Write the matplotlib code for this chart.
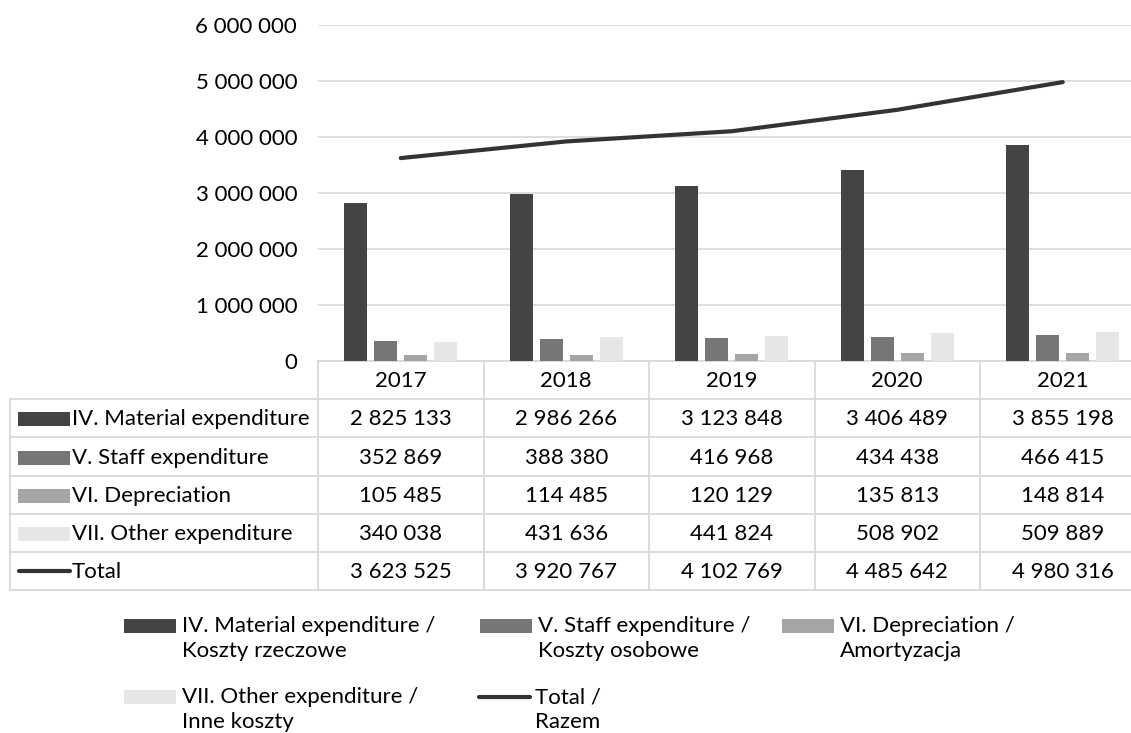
import matplotlib
matplotlib.use("Agg")
import matplotlib.pyplot as plt
from matplotlib.ticker import FuncFormatter, MultipleLocator
from matplotlib.patches import Rectangle
from matplotlib.lines import Line2D

plt.rcParams['font.family'] = ['Lato', 'DejaVu Sans']

# ---- data ----
years = ["2017", "2018", "2019", "2020", "2021"]
material = [2825133, 2986266, 3123848, 3406489, 3855198]
staff = [352869, 388380, 416968, 434438, 466415]
depreciation = [105485, 114485, 120129, 135813, 148814]
other = [340038, 431636, 441824, 508902, 509889]
total = [3623525, 3920767, 4102769, 4485642, 4980316]

series_short = ["IV. Material expenditure", "V. Staff expenditure",
                "VI. Depreciation", "VII. Other expenditure"]
series_long = ["IV. Material expenditure /\nKoszty rzeczowe",
               "V. Staff expenditure /\nKoszty osobowe",
               "VI. Depreciation /\nAmortyzacja",
               "VII. Other expenditure /\nInne koszty"]
total_short = "Total"
total_long = "Total /\nRazem"

colors = ["#444444", "#767676", "#a5a5a5", "#e6e6e6"]
line_color = "#333333"
grid_color = "#d9d9d9"
FS = 16

W, H = 1131, 733
fig = plt.figure(figsize=(W / 100, H / 100), dpi=100)

# layout layer in pixel coordinates
lay = fig.add_axes([0, 0, 1, 1], zorder=0)
lay.set_xlim(0, W)
lay.set_ylim(H, 0)
lay.axis("off")

# plot area geometry (px)
px_left, col_w = 318.0, 165.5
px_top, px_base = 25.0, 361.0
ncol = len(years)
px_right = px_left + col_w * ncol

ax = fig.add_axes([px_left / W, 1 - px_base / H,
                   (px_right - px_left) / W, (px_base - px_top) / H], zorder=2)
ax.set_facecolor("none")
ax.set_xlim(-0.5, ncol - 0.5)
ax.set_ylim(0, 6000000)
ax.yaxis.set_major_locator(MultipleLocator(1000000))
ax.yaxis.set_major_formatter(FuncFormatter(lambda v, p: f"{int(v):,}".replace(",", " ")))
ax.tick_params(axis="y", length=0, pad=15, labelsize=FS, colors="#000000")
ax.set_xticks([])
for s in ax.spines.values():
    s.set_visible(False)
ax.grid(axis="y", color=grid_color, linewidth=1.2)
ax.set_axisbelow(True)

values = [material, staff, depreciation, other]
bar_w = 23 / col_w
offsets = [-45 / col_w, -15 / col_w, 15 / col_w, 45 / col_w]
xs = list(range(ncol))
for vals, off, c in zip(values, offsets, colors):
    ax.bar([x + off for x in xs], vals, width=bar_w, color=c, zorder=3)
ax.plot(xs, total, color=line_color, linewidth=3.0, solid_capstyle="round", zorder=4)

# ---- data table ----
def fmt(v):
    return f"{v:,}".replace(",", " ")

row_edges = [399, 437, 476, 514, 552, 590]
tbl_left = 10
lw = 1.3
# header top border & column separators
lay.plot([px_left, W], [px_base, px_base], color=grid_color, lw=lw)
for y in row_edges:
    lay.plot([tbl_left, W], [y, y], color=grid_color, lw=lw)
lay.plot([tbl_left, tbl_left], [row_edges[0], row_edges[-1]], color=grid_color, lw=lw)
for i in range(ncol):
    xv = px_left + col_w * i
    lay.plot([xv, xv], [px_base, row_edges[-1]], color=grid_color, lw=lw)

for i, yr in enumerate(years):
    lay.text(px_left + col_w * (i + 0.5), (px_base + row_edges[0]) / 2 + 1, yr,
             ha="center", va="center", fontsize=FS)

row_vals = values + [total]
for r in range(5):
    yc = (row_edges[r] + row_edges[r + 1]) / 2 + 1
    if r < 4:
        lay.add_patch(Rectangle((18, yc - 7), 52, 14, color=colors[r], lw=0))
        lab = series_short[r]
    else:
        lay.add_line(Line2D([19, 70], [yc - 1, yc - 1], color=line_color, lw=3.0,
                            solid_capstyle="round"))
        lab = total_short
    lay.text(72, yc, lab, ha="left", va="center", fontsize=FS)
    for i in range(ncol):
        lay.text(px_left + col_w * (i + 0.5), yc, fmt(row_vals[r][i]),
                 ha="center", va="center", fontsize=FS)

# ---- legend ----
leg_items = [(124, 626, 0), (480, 626, 1), (782, 626, 2), (124, 697, 3), (477, 697, 4)]
line_gap = 25
for x0, y0, k in leg_items:
    if k < 4:
        lay.add_patch(Rectangle((x0, y0 - 7), 52, 14, color=colors[k], lw=0))
        txt = series_long[k]
    else:
        lay.add_line(Line2D([x0 + 2, x0 + 53], [y0, y0], color=line_color, lw=3.0,
                            solid_capstyle="round"))
        txt = total_long
    for j, part in enumerate(txt.split("\n")):
        lay.text(x0 + 58, y0 + j * line_gap, part, ha="left", va="center", fontsize=FS)

fig.savefig("out.png", dpi=100, facecolor="white")
